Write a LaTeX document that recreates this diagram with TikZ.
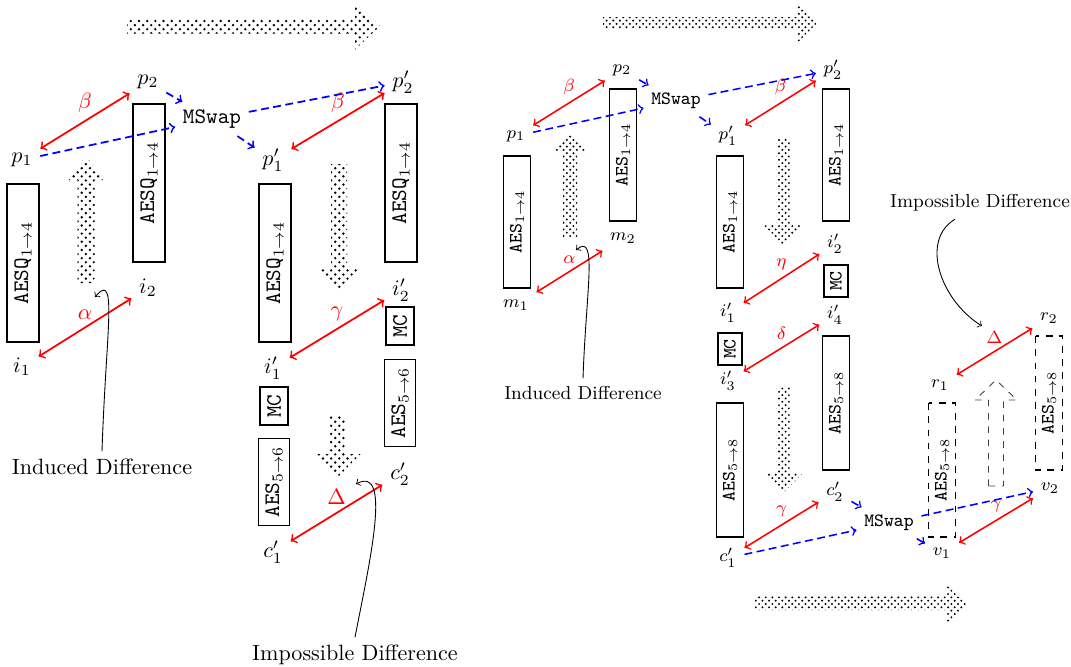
\documentclass[tikz,border=0pt]{standalone}
\usepackage{fontspec}
\usetikzlibrary{patterns}

% one unit of the picture
\newcommand{\pxl}{0.4525pt}
\newcommand{\rsz}{\fontsize{8.5}{10}\selectfont}
% big hollow/hatched arrow: style, start, angle, length, head length, shaft half width, head half width
\newcommand{\fatarrow}[7]{%
  \path[#1, shift={#2}, rotate=#3] (0,-#6) -- ({#4-#5},-#6) -- ({#4-#5},-#7) -- (#4,0)
    -- ({#4-#5},#7) -- ({#4-#5},#6) -- (0,#6) -- cycle;}
% coarser dots for the larger arrows
\pgfdeclarepatternformonly{big crosshatch dots}{\pgfqpoint{-.7pt}{-.7pt}}{\pgfqpoint{2.6pt}{2.6pt}}{\pgfqpoint{3.7pt}{3.7pt}}{%
  \pgfpathcircle{\pgfqpoint{0pt}{0pt}}{.6pt}
  \pgfpathcircle{\pgfqpoint{1.85pt}{1.85pt}}{.6pt}
  \pgfusepath{fill}}

\begin{document}
\begin{tikzpicture}[x=\pxl, y=-\pxl, >=to]
  \tikzstyle{box}=[draw, thick, rotate=90, inner sep=0pt, font=\ttfamily]
  \tikzstyle{rbox}=[draw, line width=0.7pt, rotate=90, inner sep=0pt, font=\rsz\ttfamily]
  \tikzstyle{diff}=[<->, red, thick]
  \tikzstyle{rdiff}=[<->, red, line width=0.7pt]
  \tikzstyle{swap}=[->, blue, thick, dash pattern=on 3.6pt off 2pt]
  \tikzstyle{rswap}=[->, blue, line width=0.7pt, dash pattern=on 3.6pt off 2pt]
  \tikzstyle{hatch}=[pattern=big crosshatch dots]
  \tikzstyle{rhatch}=[pattern=crosshatch dots]
  \useasboundingbox (0,0) rectangle (1071,667);

  % ---- left: AESQ with 4 rounds, MC and AES 5-6 ----
  \fatarrow{hatch}{(127,26)}{0}{253}{25}{7.5}{23.5}
  \fatarrow{hatch}{(86,283)}{90}{126}{23}{8.5}{21.5}
  \fatarrow{hatch}{(339,164)}{-90}{126}{22}{8}{23}
  \fatarrow{hatch}{(337,415)}{-90}{63}{24}{8.5}{23.5}

  \node (p_1)  at (22,160)  {$p_1$};
  \node (p_2)  at (148,82)  {$p_2$};
  \node[font=\ttfamily] (ms) at (212,119) {MSwap};
  \node (pp_1) at (273,160) {$p'_1$};
  \node (pp_2) at (403,82)  {$p'_2$};
  \node (i_1)  at (22,367)  {$i_1$};
  \node (i_2)  at (148,288) {$i_2$};
  \node (ip_1) at (273,368) {$i'_1$};
  \node (ip_2) at (401,290) {$i'_2$};
  \node (cp_1) at (273,552) {$c'_1$};
  \node (cp_2) at (400,474) {$c'_2$};

  \node[box, minimum width=158*\pxl, minimum height=32*\pxl] (bq_1) at (23,263)  {AESQ$_{1\rightarrow4}$};
  \node[box, minimum width=158*\pxl, minimum height=32*\pxl] (bq_2) at (149,183) {AESQ$_{1\rightarrow4}$};
  \node[box, minimum width=158*\pxl, minimum height=32*\pxl] (bq_3) at (275,263) {AESQ$_{1\rightarrow4}$};
  \node[box, minimum width=158*\pxl, minimum height=32*\pxl] (bq_4) at (401,183) {AESQ$_{1\rightarrow4}$};
  \node[box, minimum width=38*\pxl, minimum height=28*\pxl] (mc_1) at (274,406) {MC};
  \node[box, minimum width=38*\pxl, minimum height=28*\pxl] (mc_2) at (400,326) {MC};
  \node[box, minimum width=87*\pxl, minimum height=31*\pxl] (bs_1) at (274,482) {AES$_{5\rightarrow6}$};
  \node[box, minimum width=87*\pxl, minimum height=31*\pxl] (bs_2) at (400,403) {AES$_{5\rightarrow6}$};

  \draw[diff] (p_1) -- node[above] {$\beta$} (p_2);
  \draw[diff] (i_1) -- node[above] {$\alpha$} (i_2);
  \draw[diff] (pp_1) -- node[above] {$\beta$} (pp_2);
  \draw[diff] (ip_1) -- node[above] {$\gamma$} (ip_2);
  \draw[diff] (cp_1) -- node[above] {$\Delta$} (cp_2);

  \draw[swap] (p_1) -- (ms);
  \draw[swap] (p_2) -- (ms);
  \draw[swap] (ms) -- (pp_1);
  \draw[swap] (ms) -- (pp_2);

  \node (ind_L) at (102,467) {Induced Difference};
  \node (imp_L) at (355,655) {Impossible Difference};
  \coordinate (tip_a) at (95,297);
  \coordinate (tip_d) at (356,484);
  \draw[->] (ind_L.north) .. controls (106,330) and (118,270) .. (tip_a);
  \draw[->] (imp_L.north) .. controls (370,560) and (392,465) .. (tip_d);

  % ---- right: AES with 8 rounds ----
  \begin{scope}[every node/.append style={font=\rsz}]
  \fatarrow{rhatch}{(603,23)}{0}{214}{20}{6}{20}
  \fatarrow{rhatch}{(570,238)}{90}{106}{20}{7}{19.5}
  \fatarrow{rhatch}{(783,138)}{-90}{107}{20}{6.5}{20}
  \fatarrow{rhatch}{(783,386)}{-90}{107}{20}{6.5}{20}
  \fatarrow{rhatch}{(755,603)}{0}{213}{21}{7}{20}
  \fatarrow{draw=black!75, dashed}{(996,486)}{90}{106}{20}{7.5}{21}

  \node (q_1)  at (516,136) {$p_1$};
  \node (q_2)  at (622,70)  {$p_2$};
  \node[font=\rsz\ttfamily] (rms_1) at (676,101) {MSwap};
  \node (qq_1) at (728,136) {$p'_1$};
  \node (qq_2) at (833,70)  {$p'_2$};
  \node (m_1)  at (516,305) {$m_1$};
  \node (m_2)  at (623,238) {$m_2$};
  \node (j_1)  at (728,313) {$i'_1$};
  \node (j_2)  at (835,244) {$i'_2$};
  \node (j_3)  at (728,381) {$i'_3$};
  \node (j_4)  at (835,315) {$i'_4$};
  \node (e_1)  at (728,558) {$c'_1$};
  \node (e_2)  at (835,492) {$c'_2$};
  \node[font=\rsz\ttfamily] (rms_2) at (889,523) {MSwap};
  \node (v_1)  at (942,553) {$v_1$};
  \node (v_2)  at (1050,488) {$v_2$};
  \node (r_1)  at (940,385) {$r_1$};
  \node (r_2)  at (1049,318) {$r_2$};

  \node[rbox, minimum width=132*\pxl, minimum height=27*\pxl] (ba_1) at (517,222) {AES$_{1\rightarrow4}$};
  \node[rbox, minimum width=132*\pxl, minimum height=27*\pxl] (ba_2) at (623,155) {AES$_{1\rightarrow4}$};
  \node[rbox, minimum width=132*\pxl, minimum height=27*\pxl] (ba_3) at (730,222) {AES$_{1\rightarrow4}$};
  \node[rbox, minimum width=132*\pxl, minimum height=27*\pxl] (ba_4) at (836,155) {AES$_{1\rightarrow4}$};
  \node[rbox, minimum width=32*\pxl, minimum height=24*\pxl] (rmc_1) at (730,349) {MC};
  \node[rbox, minimum width=32*\pxl, minimum height=24*\pxl] (rmc_2) at (836,281) {MC};
  \node[rbox, minimum width=134*\pxl, minimum height=27*\pxl] (bb_1) at (730,470) {AES$_{5\rightarrow8}$};
  \node[rbox, minimum width=134*\pxl, minimum height=27*\pxl] (bb_2) at (836,403) {AES$_{5\rightarrow8}$};
  \node[rbox, dashed, minimum width=134*\pxl, minimum height=27*\pxl] (bd_1) at (942,470) {AES$_{5\rightarrow8}$};
  \node[rbox, dashed, minimum width=134*\pxl, minimum height=27*\pxl] (bd_2) at (1049,403) {AES$_{5\rightarrow8}$};

  \draw[rdiff] (q_1) -- node[above] {$\beta$} (q_2);
  \draw[rdiff] (m_1) -- node[above] {$\alpha$} (m_2);
  \draw[rdiff] (qq_1) -- node[above] {$\beta$} (qq_2);
  \draw[rdiff] (j_1) -- node[above] {$\eta$} (j_2);
  \draw[rdiff] (j_3) -- node[above] {$\delta$} (j_4);
  \draw[rdiff] (e_1) -- node[above] {$\gamma$} (e_2);
  \draw[rdiff] (v_1) -- node[above] {$\gamma$} (v_2);
  \draw[rdiff] (r_1) -- node[above] {$\Delta$} (r_2);

  \draw[rswap] (q_1) -- (rms_1);
  \draw[rswap] (q_2) -- (rms_1);
  \draw[rswap] (rms_1) -- (qq_1);
  \draw[rswap] (rms_1) -- (qq_2);
  \draw[rswap] (e_1) -- (rms_2);
  \draw[rswap] (e_2) -- (rms_2);
  \draw[rswap] (rms_2) -- (v_1);
  \draw[rswap] (rms_2) -- (v_2);

  \node (ind_R) at (583,393) {Induced Difference};
  \node (imp_R) at (980,203) {Impossible Difference};
  \coordinate (tip_r) at (576,250);
  \coordinate (tip_D) at (982,326);
  \draw[->] (ind_R.north) .. controls (586,290) and (598,232) .. (tip_r);
  \draw[->] ([xshift=-25*\pxl]imp_R.south) .. controls (920,240) and (940,300) .. (tip_D);
  \end{scope}
\end{tikzpicture}
\end{document}
